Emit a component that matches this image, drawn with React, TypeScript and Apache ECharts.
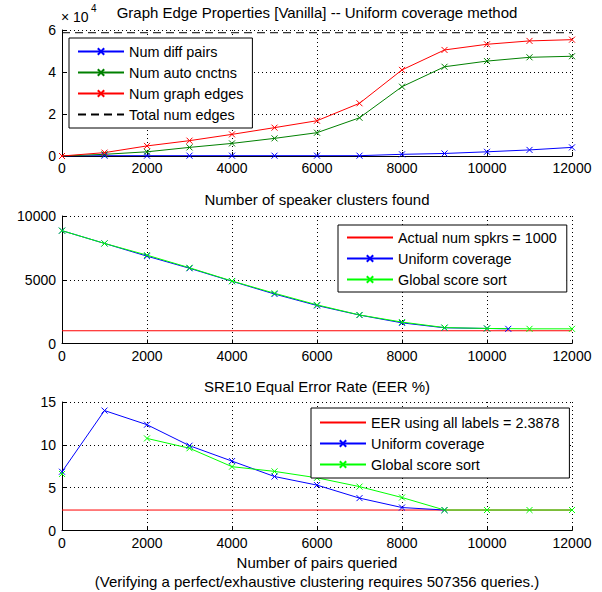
import React, { useEffect, useRef } from "react";
import * as echarts from "echarts";

// ---------- data ----------
const queries = [0, 1000, 2000, 3000, 4000, 5000, 6000, 7000, 8000, 9000, 10000, 11000, 12000];
const xTickLabels = ["0", "2000", "4000", "6000", "8000", "10000", "12000"];

// panel 1: graph edge properties (raw counts)
const numDiffPairs = [0, 150, 150, 150, 150, 150, 150, 150, 800, 1200, 2000, 2900, 4100];
const numAutoCnctns = [0, 800, 2000, 4100, 6000, 8400, 11100, 18200, 33000, 42500, 45200, 47000, 47500];
const numGraphEdges = [0, 1600, 4800, 7300, 10300, 13500, 16800, 25100, 41000, 50500, 53200, 54800, 55400];
const totalNumEdges = 58700;

// panel 2: number of speaker clusters found
const actualNumSpkrs = 1000;
const uniformQueries = [0, 1000, 2000, 3000, 4000, 5000, 6000, 7000, 8000, 9000, 10000, 10500];
const uniformClusters = [8850, 7850, 6850, 5900, 4880, 3880, 2980, 2230, 1620, 1230, 1180, 1150];
const globalClusters = [8850, 7850, 6930, 5940, 4900, 3940, 3030, 2240, 1680, 1250, 1180, 1150, 1150];

// panel 3: EER %
const eerAllLabels = 2.3878;
const uniformEERQueries = [0, 1000, 2000, 3000, 4000, 5000, 6000, 7000, 8000, 9000];
const uniformEER = [6.86, 14.0, 12.35, 9.9, 8.1, 6.3, 5.3, 3.78, 2.68, 2.39];
const globalEER: (number | null)[] = [6.6, null, 10.75, 9.6, 7.45, 6.9, 6.15, 5.12, 3.85, 2.39, 2.39, 2.39, 2.39];

// ---------- style ----------
const FONT = "Liberation Sans";
const FS = 15;
const LFS = 14.4;
const TFS = 14;
const CROSS = "path://M0,0L10,10M10,0L0,10";
const PLOT_L = 62;
const PLOT_W = 510;
const CX = PLOT_L + PLOT_W / 2;

const pairs = (xs: number[], ys: (number | null)[]) => xs.map((x, i) => [x, ys[i]]);

function lineSeries(name: string, color: string, data: any[], idx: number, marker = true, dashed = false) {
  return {
    type: "line",
    name,
    xAxisIndex: idx,
    yAxisIndex: idx,
    data,
    symbol: marker ? CROSS : "none",
    symbolSize: 6,
    showSymbol: marker,
    connectNulls: false,
    lineStyle: { color, width: 1, type: dashed ? [8, 5] : "solid" },
    itemStyle: { color, borderColor: color, borderWidth: 1 },
    emphasis: { disabled: true },
    z: 3,
  };
}

function xAxisDef(idx: number) {
  return {
    type: "value",
    gridIndex: idx,
    min: 0,
    max: 12000,
    interval: 2000,
    axisLine: { show: true, onZero: false, lineStyle: { color: "#000", width: 1 } },
    axisTick: { show: true, inside: true, length: 4, lineStyle: { color: "#000" } },
    axisLabel: {
      color: "#000",
      fontFamily: FONT,
      fontSize: TFS,
      margin: 5,
      formatter: (v: number) => xTickLabels[Math.round(v / 2000)] ?? String(v),
    },
    splitLine: { show: true, lineStyle: { color: "#000", width: 1, type: [1, 3] } },
  };
}

function yAxisDef(idx: number, max: number, interval: number, fmt: (v: number) => string) {
  return {
    type: "value",
    gridIndex: idx,
    min: 0,
    max,
    interval,
    axisLine: { show: true, onZero: false, lineStyle: { color: "#000", width: 1 } },
    axisTick: { show: true, inside: true, length: 4, lineStyle: { color: "#000" } },
    axisLabel: { color: "#000", fontFamily: FONT, fontSize: TFS, margin: 6, formatter: fmt },
    splitLine: { show: true, lineStyle: { color: "#000", width: 1, type: [1, 3] } },
  };
}

function legendDef(names: string[], plain: string[], left: number, top: number, padding: number[]) {
  return {
    data: names.map((n) => (plain.includes(n) ? { name: n, itemStyle: { opacity: 0 } } : { name: n })),
    orient: "vertical",
    left,
    top,
    padding,
    itemWidth: 46,
    itemHeight: 8,
    itemGap: 6,
    selectedMode: false,
    backgroundColor: "#fff",
    borderColor: "#000",
    borderWidth: 1,
    borderRadius: 0,
    textStyle: { color: "#000", fontFamily: FONT, fontSize: LFS, lineHeight: 15 },
  };
}

export default function App() {
  const ref = useRef<HTMLDivElement>(null);
  useEffect(() => {
    if (!ref.current) return;
    const chart = echarts.init(ref.current, null, { renderer: "svg" });
    const titleStyle = { color: "#000", fontFamily: FONT, fontSize: FS, fontWeight: "normal" };
    chart.setOption({
      animation: false,
      backgroundColor: "#fff",
      title: [
        { text: "Graph Edge Properties [Vanilla] -- Uniform coverage method", left: CX, top: 5, textAlign: "center", padding: 0, textStyle: titleStyle },
        { text: "Number of speaker clusters found", left: CX, top: 192, textAlign: "center", padding: 0, textStyle: titleStyle },
        { text: "SRE10 Equal Error Rate (EER %)", left: CX, top: 379, textAlign: "center", padding: 0, textStyle: titleStyle },
      ],
      grid: [
        { left: PLOT_L, width: PLOT_W, top: 30, height: 126 },
        { left: PLOT_L, width: PLOT_W, top: 216, height: 127.5 },
        { left: PLOT_L, width: PLOT_W, top: 402, height: 128.5 },
      ],
      xAxis: [xAxisDef(0), xAxisDef(1), xAxisDef(2)],
      yAxis: [
        yAxisDef(0, 60000, 20000, (v: number) => String(v / 10000)),
        yAxisDef(1, 10000, 5000, (v: number) => String(v)),
        yAxisDef(2, 15, 5, (v: number) => String(v)),
      ],
      legend: [
        legendDef(["Num diff pairs", "Num auto cnctns", "Num graph edges", "Total num edges"], ["Total num edges"], 69, 38, [6, 9, 6, 8]),
        legendDef(["Actual num spkrs = 1000", "Uniform coverage", "Global score sort"], ["Actual num spkrs = 1000"], 338, 225, [5, 10, 5, 8]),
        legendDef(["EER using all labels = 2.3878", "Uniform coverage", "Global score sort"], ["EER using all labels = 2.3878"], 311, 408, [7, 10, 6, 8]),
      ],
      graphic: [
        { type: "text", left: 61, top: 10, style: { text: "× 10", fill: "#000", font: `${TFS}px "${FONT}"` } },
        { type: "text", left: 91, top: 3, style: { text: "4", fill: "#000", font: `10px "${FONT}"` } },
        { type: "text", x: CX, y: 562, style: { text: "Number of pairs queried", fill: "#000", font: `${FS}px "${FONT}"`, align: "center", verticalAlign: "middle" } },
        { type: "text", x: CX, y: 581, style: { text: "(Verifying a perfect/exhaustive clustering requires 507356 queries.)", fill: "#000", font: `${FS}px "${FONT}"`, align: "center", verticalAlign: "middle" } },
      ],
      series: [
        lineSeries("Num diff pairs", "#0000ff", pairs(queries, numDiffPairs), 0),
        lineSeries("Num auto cnctns", "#008000", pairs(queries, numAutoCnctns), 0),
        lineSeries("Num graph edges", "#ff0000", pairs(queries, numGraphEdges), 0),
        lineSeries("Total num edges", "#000000", [[0, totalNumEdges], [12000, totalNumEdges]], 0, false, true),

        lineSeries("Actual num spkrs = 1000", "#ff0000", [[0, actualNumSpkrs], [12000, actualNumSpkrs]], 1, false),
        lineSeries("Uniform coverage", "#0000ff", pairs(uniformQueries, uniformClusters), 1),
        lineSeries("Global score sort", "#00ff00", pairs(queries, globalClusters), 1),

        lineSeries("EER using all labels = 2.3878", "#ff0000", [[0, eerAllLabels], [12000, eerAllLabels]], 2, false),
        lineSeries("Uniform coverage", "#0000ff", pairs(uniformEERQueries, uniformEER), 2),
        lineSeries("Global score sort", "#00ff00", pairs(queries, globalEER), 2),
      ],
    });
    return () => chart.dispose();
  }, []);
  return <div ref={ref} style={{ position: "absolute", left: 0, top: 0, width: 602, height: 592 }} />;
}
